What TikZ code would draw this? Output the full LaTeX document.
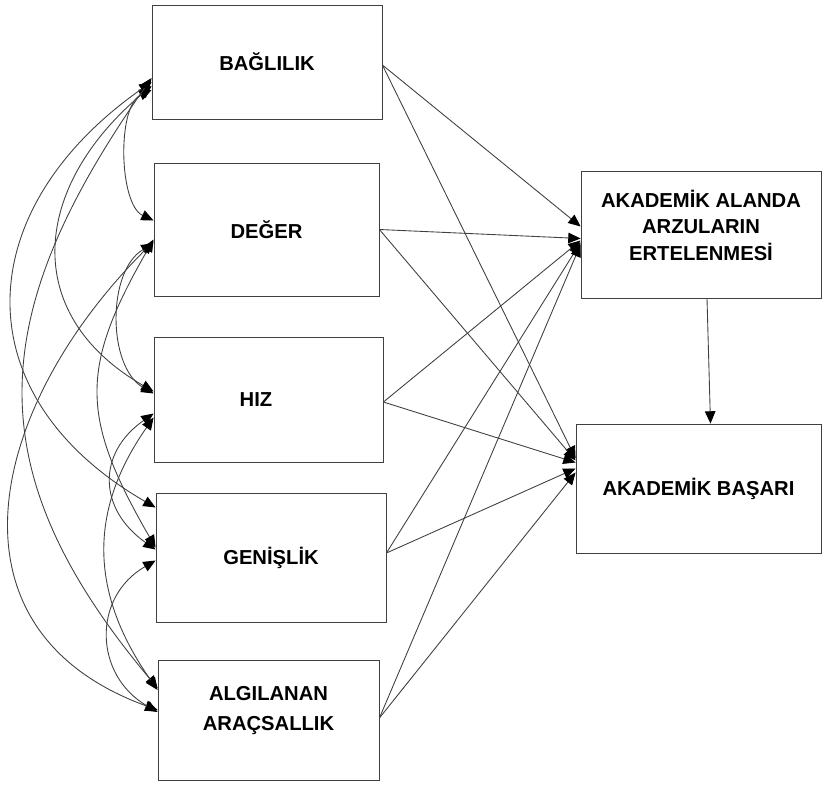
\documentclass[tikz,border=0pt]{standalone}
\usepackage{fontspec}
\setmainfont{Liberation Sans}
\usetikzlibrary{arrows.meta,calc}
\tikzset{
  varbox/.style={draw=black!75,line width=0.5pt,inner sep=0pt,align=center,font=\fontsize{11.5}{15}\selectfont\bfseries},
  effect/.style={draw=black!75,line width=0.5pt,-{Triangle[length=7pt,width=6pt,color=black]}},
  cov/.style={draw=black!75,line width=0.5pt,{Triangle[length=7pt,width=6pt,color=black]}-{Triangle[length=7pt,width=6pt,color=black]}}
}
\begin{document}
\begin{tikzpicture}[x=0.02cm,y=0.02cm]
  \useasboundingbox (0,0) rectangle (822,-785);
  % predictors
  \node[varbox,minimum width=4.6cm,minimum height=2.28cm] (bag) at (267,-62) {BAĞLILIK};
  \node[varbox,minimum width=4.5cm,minimum height=2.66cm] (deg) at (266.5,-229.5) {DEĞER};
  \node[varbox,minimum width=4.58cm,minimum height=2.5cm] (hiz) at (268.5,-399.5) {HIZ\hspace{0.5cm}};
  \node[varbox,minimum width=4.6cm,minimum height=2.58cm] (gen) at (271,-557.5) {GENİŞLİK};
  \node[varbox,minimum width=4.42cm,minimum height=2.4cm,font=\fontsize{11.5}{17}\selectfont\bfseries] (alg) at (268.5,-720)
    {\raisebox{2.8pt}[0pt][0pt]{\begin{tabular}{@{}c@{}}ALGILANAN\\ARAÇSALLIK\end{tabular}}};
  % outcomes
  \node[varbox,minimum width=4.8cm,minimum height=2.54cm] (ert) at (701,-234.5)
    {\raisebox{0.4pt}[0pt][0pt]{\begin{tabular}{@{}c@{}}AKADEMİK ALANDA\\ARZULARIN\\ERTELENMESİ\end{tabular}}};
  \node[varbox,minimum width=4.9cm,minimum height=2.58cm] (bas) at (698.5,-488.5) {AKADEMİK BAŞARI};

  % paths
  \draw[effect] ($(bag.east)+(0,-3)$) -- ($(ert.west)+(0,8)$); \draw[effect] ($(bag.east)+(0,-3)$) -- ($(bas.west)+(0,30)$);
  \draw[effect] (deg.east) -- ($(ert.west)+(0,-4)$); \draw[effect] (deg.east) -- ($(bas.west)+(0,28)$);
  \draw[effect] ($(hiz.east)+(0,-2.5)$) -- ($(ert.west)+(0,-6)$); \draw[effect] ($(hiz.east)+(0,-2.5)$) -- ($(bas.west)+(0,26)$);
  \draw[effect] ($(gen.east)+(0,4.5)$) -- ($(ert.west)+(0,-8)$); \draw[effect] ($(gen.east)+(0,4.5)$) -- ($(bas.west)+(0,20)$);
  \draw[effect] ($(alg.east)+(0,2)$) -- ($(ert.west)+(0,-10)$); \draw[effect] ($(alg.east)+(0,2)$) -- ($(bas.west)+(0,16)$);
  \draw[effect] ($(ert.south)+(6,0)$) -- ($(bas.north)+(12,0)$);

  % covariances
  \draw[cov] ($(bag.west)+(0,-28)$) to[out=205,in=155,looseness=0.75] ($(deg.west)+(0,9)$);
  \draw[cov] ($(bag.west)+(0,-24)$) to[out=220,in=150,looseness=1.3] ($(hiz.west)+(0,8)$);
  \draw[cov] ($(bag.west)+(0,-20)$) to[out=215,in=150,looseness=1.34] ($(gen.west)+(0,50)$);
  \draw[cov] ($(bag.west)+(0,-16)$) to[out=235,in=130,looseness=1.2] ($(alg.west)+(0,32)$);
  \draw[cov] ($(deg.west)+(0,-14)$) to[out=210,in=150,looseness=0.92] ($(hiz.west)+(0,6)$);
  \draw[cov] ($(deg.west)+(0,-10)$) to[out=240,in=120,looseness=1.24] ($(gen.west)+(0,10)$);
  \draw[cov] ($(deg.west)+(0,-12)$) to[out=225,in=160,looseness=1.28] ($(alg.west)+(0,10)$);
  \draw[cov] ($(hiz.west)+(0,-14)$) to[out=215,in=145,looseness=1.31] ($(gen.west)+(0,8)$);
  \draw[cov] ($(hiz.west)+(0,-18)$) to[out=235,in=125,looseness=1.09] ($(alg.west)+(0,30)$);
  \draw[cov] ($(gen.west)+(0,-3)$) to[out=210,in=150,looseness=1.24] ($(alg.west)+(0,8)$);
\end{tikzpicture}
\end{document}
